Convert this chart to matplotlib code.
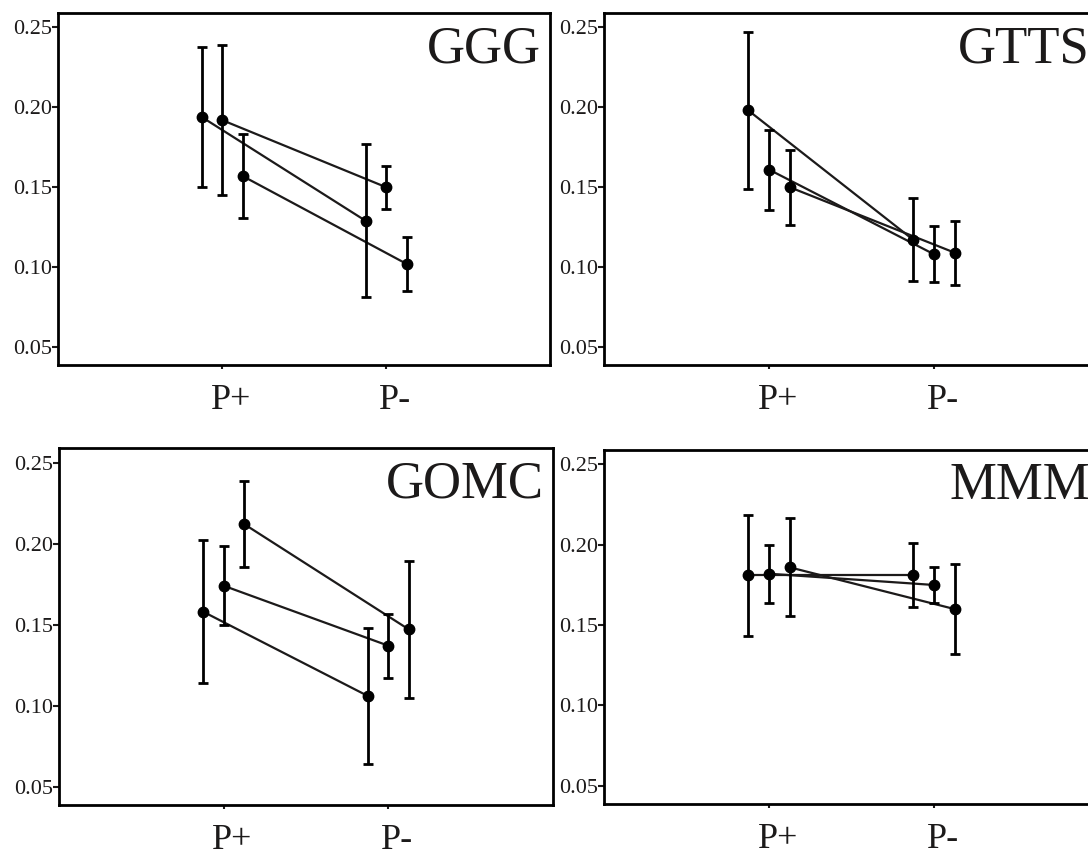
import numpy as np
import matplotlib.pyplot as plt
import matplotlib.transforms as mtransforms

plt.rcParams["font.family"] = ["Liberation Serif", "DejaVu Serif"]

groups = ["P+", "P-"]
panel_names = ["GGG", "GTTS", "GOMC", "MMM"]

# mean values per series: [P+, P-]
ggg_mean = [[0.194, 0.129], [0.192, 0.150], [0.157, 0.102]]
ggg_err = [[0.044, 0.048], [0.047, 0.0135], [0.026, 0.017]]

gtts_mean = [[0.198, 0.117], [0.161, 0.108], [0.150, 0.109]]
gtts_err = [[0.049, 0.026], [0.025, 0.0175], [0.0235, 0.020]]

gomc_mean = [[0.158, 0.106], [0.174, 0.137], [0.212, 0.147]]
gomc_err = [[0.044, 0.042], [0.0245, 0.0197], [0.0265, 0.042]]

mmm_mean = [[0.181, 0.181], [0.182, 0.175], [0.186, 0.160]]
mmm_err = [[0.0375, 0.020], [0.018, 0.0113], [0.0305, 0.028]]

y_ticks = [0.05, 0.10, 0.15, 0.20, 0.25]

W, H = 1088, 852
INK = "#1c1a1a"


def px_axes(fig, left, top, right, bottom):
    return fig.add_axes([left / W, 1 - bottom / H, (right - left) / W, (bottom - top) / H])


def draw_panel(ax, name, means, errs):
    x = np.arange(1, len(groups) + 1)
    offsets = [-0.125, 0.0, 0.125]
    for m, e, off in zip(means, errs, offsets):
        ax.plot(x + off, m, color=INK, lw=1.6, zorder=2)
        ax.errorbar(x + off, m, yerr=e, fmt="o", color="black", ms=7.5,
                    elinewidth=2, capsize=3.5, capthick=2, zorder=3)
    ax.set_xlim(0, 3)
    ax.set_ylim(0.0387, 0.259)
    ax.set_xticks(x)
    ax.set_xticklabels(groups, fontsize=26)
    ax.set_yticks(y_ticks)
    ax.set_yticklabels([f"{v:.2f}" for v in y_ticks], fontsize=16)
    ax.tick_params(axis="y", length=4, width=1.5, pad=0, colors=INK)
    ax.tick_params(axis="x", length=3, width=1.5, pad=11, colors=INK)
    # category labels sit a little right of their ticks in the original
    shift = mtransforms.ScaledTranslation(9 / 100, 0, ax.figure.dpi_scale_trans)
    for lab in ax.get_xticklabels():
        lab.set_transform(lab.get_transform() + shift)
    for s in ax.spines.values():
        s.set_linewidth(2)
        s.set_color("black")
    ax.text(0.982, 0.965, name, transform=ax.transAxes, ha="right", va="top",
            fontsize=38, color=INK)


fig = plt.figure(figsize=(W / 100, H / 100), dpi=100)

ax1 = px_axes(fig, 58, 13, 550, 365)
ax2 = px_axes(fig, 604, 13, 1099, 365)
ax3 = px_axes(fig, 59, 448, 553, 805)
ax4 = px_axes(fig, 604, 450, 1099, 804)

draw_panel(ax1, "GGG", ggg_mean, ggg_err)
draw_panel(ax2, "GTTS", gtts_mean, gtts_err)
draw_panel(ax3, "GOMC", gomc_mean, gomc_err)
draw_panel(ax4, "MMM", mmm_mean, mmm_err)

fig.savefig("out.png", dpi=100)
